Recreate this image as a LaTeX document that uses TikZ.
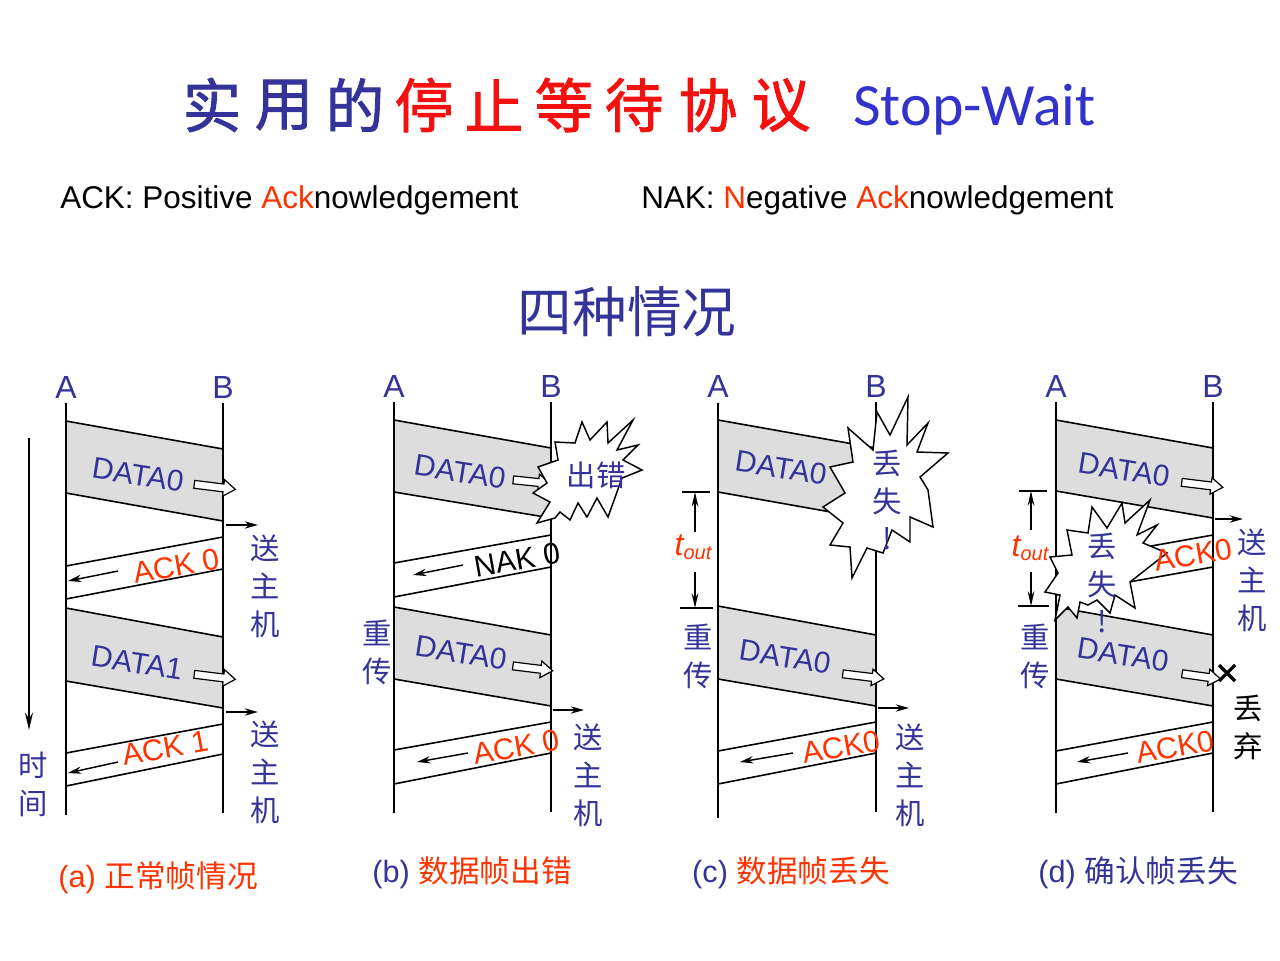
\documentclass[tikz,border=0pt]{standalone}
\usepackage{fontspec}
\setmainfont{Liberation Sans}
\newfontfamily\cjk{Noto Sans CJK SC}
\newfontfamily\cjktitle[FakeBold=1.5]{Noto Sans CJK SC}
\newfontfamily\titlelatin{Carlito}
\usetikzlibrary{arrows.meta,shapes.arrows}

\definecolor{navy}{HTML}{333399}
\definecolor{ackred}{HTML}{FF3300}
\definecolor{titlered}{HTML}{F51010}
\definecolor{swblue}{HTML}{3333CC}
\definecolor{framegray}{HTML}{DDDDDD}

% a data frame travelling A -> B: grey band between two slanted edges
\newcommand\databand[6]{%
  \fill[framegray] (#1,#3) -- (#2,#4) -- (#2,#6) -- (#1,#5) -- cycle;
  \draw[edge] (#1,#3) -- (#2,#4) (#1,#5) -- (#2,#6);}
% an acknowledgement frame travelling B -> A: two slanted edges
\newcommand\ackband[6]{%
  \draw[edge] (#2,#4) -- (#1,#3) (#2,#6) -- (#1,#5);}

\begin{document}
\begin{tikzpicture}[x=0.75pt,y=-0.75pt,
  life/.style={line width=1.4pt},
  edge/.style={line width=1.2pt},
  endlbl/.style={text=navy,font=\fontsize{24}{28}\selectfont,inner sep=0pt},
  datatxt/.style={text=navy,font=\fontsize{22.5}{27}\selectfont,rotate=-9,inner sep=0pt},
  acktxt/.style={text=ackred,font=\fontsize{22.5}{27}\selectfont,rotate=10,inner sep=0pt},
  cjkv/.style={text=navy,font=\cjk\fontsize{22}{28.5}\selectfont,align=center,inner sep=0pt},
  harrow/.style={single arrow,draw,fill=white,line width=0.9pt,inner xsep=0pt,inner ysep=2.5pt,
    text height=0pt,text depth=0pt,text width=0pt,minimum height=31pt,
    single arrow head extend=3.3pt,single arrow tip angle=70},
  hostarrow/.style={line width=1.1pt,-{Stealth[length=10pt,width=5.5pt]}},
  backarrow/.style={line width=1.1pt,-{Stealth[length=10pt,width=5.5pt]}},
  tick/.style={line width=1.2pt},
  dim/.style={line width=1.2pt,-{Stealth[length=11pt,width=5pt]}},
  tout/.style={text=ackred,font=\itshape\fontsize{24}{24}\selectfont,inner sep=0pt},
  burst/.style={draw,fill=white,line width=1.1pt,line join=miter},
  caption/.style={font=\fontsize{23}{28}\selectfont,inner sep=0pt},
  titlech/.style={font=\cjktitle\fontsize{44}{50}\selectfont,inner sep=0pt}]
\useasboundingbox (0,0) rectangle (1280,960);

% ---------------- heading ----------------
\foreach \ch/\x/\col in {实/212/navy,用/284/navy,的/355/navy,停/424/titlered,止/494/titlered,
                         等/564/titlered,待/634/titlered,协/708/titlered,议/781/titlered}
  \node[titlech,text=\col] (t\x) at (\x,105) {\ch};
\node[anchor=base west,text=swblue,font=\titlelatin\fontsize{45}{50}\selectfont,inner sep=0pt]
  (sw) at (853,125) {Stop-Wait};

\node[anchor=base west,font=\fontsize{23.6}{28}\selectfont,inner sep=0pt] (ackdef) at (60,208)
  {ACK: Positive {\color{ackred}Ack}nowledgement};
\node[anchor=base west,font=\fontsize{23.6}{28}\selectfont,inner sep=0pt] (nakdef) at (641,208)
  {NAK: {\color{ackred}N}egative {\color{ackred}Ack}nowledgement};

\node[text=navy,font=\cjk\fontsize{41}{46}\selectfont,inner sep=0pt] (four) at (627,312) {四种情况};

% ---------------- (a) normal case ----------------
\databand{66}{223}{421}{449}{493}{521}
\databand{66}{223}{608}{637}{681}{708}
\ackband{66}{223}{566}{537}{599}{569}
\ackband{66}{223}{753}{724}{786}{754}
\node[endlbl] (aA) at (66,387) {A};
\node[endlbl] (aB) at (223,387) {B};
\draw[life] (66,403) -- (66,815);
\draw[life] (223,403) -- (223,813);
\node[datatxt] (ad0) at (138,475) {DATA0};
\node[datatxt] (ad1) at (137,663) {DATA1};
\node[harrow,rotate=-7] (ah0) at (212,486.5) {};
\node[harrow,rotate=-7] (ah1) at (212,676.5) {};
\coordinate (ao1s) at (226,525); \coordinate (ao1e) at (258,525);
\coordinate (ao2s) at (226,712); \coordinate (ao2e) at (258,712);
\draw[hostarrow] (ao1s) -- (ao1e);
\draw[hostarrow] (ao2s) -- (ao2e);
\node[cjkv] (ahost1) at (265,586) {送\\主\\机};
\node[cjkv] (ahost2) at (265,772) {送\\主\\机};
\node[acktxt] (aack0) at (176,566) {ACK 0};
\node[acktxt] (aack1) at (165,748) {ACK 1};
\coordinate (ab1s) at (118,571); \coordinate (ab1e) at (68,581);
\coordinate (ab2s) at (118,762); \coordinate (ab2e) at (68,773);
\draw[backarrow] (ab1s) -- (ab1e);
\draw[backarrow] (ab2s) -- (ab2e);
\coordinate (ts) at (29,438); \coordinate (te) at (29,730);
\draw[line width=1.3pt,-{Stealth[length=13pt,width=6pt]}] (ts) -- (te);
\node[cjkv] (time) at (33,784) {时\\间};
\node[caption,text=ackred] (capa) at (158,878) {(a) {\cjk 正常帧情况}};

% ---------------- (b) data frame in error ----------------
\databand{394}{551}{420}{448}{492}{518}
\databand{394}{551}{607}{635}{679}{706}
\ackband{394}{551}{563}{535}{597}{567}
\ackband{394}{551}{750}{722}{784}{753}
\node[endlbl] (bA) at (394,386) {A};
\node[endlbl] (bB) at (551,386) {B};
\draw[life] (394,402) -- (394,813);
\draw[life] (551,402) -- (551,812);
\node[datatxt] (bd0) at (460,472) {DATA0};
\node[datatxt] (bd1) at (461,653) {DATA0};
\node[harrow,rotate=-6,minimum height=28pt] (bh0) at (529,481.5) {};
\node[harrow,rotate=-7,minimum height=30pt] (bh1) at (530,668) {};
\node[text=black,font=\fontsize{22.5}{27}\selectfont,rotate=10,inner sep=0pt] (bnak) at (517,560) {NAK 0};
\coordinate (bb1s) at (463,565); \coordinate (bb1e) at (413,575);
\draw[backarrow] (bb1s) -- (bb1e);
\node[acktxt] (back0) at (516,747) {ACK 0};
\coordinate (bb2s) at (468,753); \coordinate (bb2e) at (417,762);
\draw[backarrow] (bb2s) -- (bb2e);
\coordinate (bos) at (553,710); \coordinate (boe) at (584,710);
\draw[hostarrow] (bos) -- (boe);
\node[cjkv] (bhost) at (588,775) {送\\主\\机};
\node[cjkv] (bre) at (377,652) {重\\传};
\draw[burst] (555,442) -- (575,443) -- (582,422) -- (590,440) -- (607,422) -- (608,443)
  -- (633,420) -- (617,450) -- (638,445) -- (623,460) -- (642,470) -- (622,478)
  -- (608,517) -- (597,498) -- (587,517) -- (578,503) -- (570,520) -- (560,512)
  -- (555,518) -- (537,523) -- (550,502) -- (533,493) -- (547,483) -- (538,467)
  -- (558,460) -- cycle;
\node[text=navy,font=\cjk\fontsize{22}{26}\selectfont,inner sep=0pt] (berr) at (596,475) {出错};
\node[caption] (capb) at (472,873) {{\color{navy}(b)} {\cjk\color{ackred}数据帧出错}};

% ---------------- (c) data frame lost ----------------
\databand{718}{876}{420}{448}{492}{520}
\databand{718}{876}{606}{635}{679}{706}
\ackband{718}{876}{751}{722}{784}{753}
\node[endlbl] (cA) at (718,386) {A};
\node[endlbl] (cB) at (876,386) {B};
\draw[life] (718,403) -- (718,818);
\draw[life] (876,402) -- (876,812);
\node[datatxt] (cd0) at (781,468) {DATA0};
\node[datatxt] (cd1) at (785,657) {DATA0};
\node[harrow,rotate=-7] (ch1) at (860.5,676) {};
\node[acktxt] (cack) at (841,747) {ACK0};
\coordinate (cbs) at (793,753); \coordinate (cbe) at (740,762);
\draw[backarrow] (cbs) -- (cbe);
\coordinate (cos) at (878,708); \coordinate (coe) at (909,708);
\draw[hostarrow] (cos) -- (coe);
\node[cjkv] (chost) at (910,775) {送\\主\\机};
\node[cjkv] (cre) at (698,656) {重\\传};
\coordinate (ct1a) at (682,492); \coordinate (ct1b) at (710,492);
\coordinate (ct2a) at (680,608); \coordinate (ct2b) at (713,608);
\draw[tick] (ct1a) -- (ct1b);
\draw[tick] (ct2a) -- (ct2b);
\node[tout] (ctout) at (693,547) {t\raisebox{-3pt}{\fontsize{15}{15}\selectfont out}};
\coordinate (cu) at (695,532); \coordinate (cl) at (695,572);
\draw[dim] (cu) -- (ct1a -| cu);
\draw[dim] (cl) -- (ct2a -| cl);
\draw[burst] (848,428) -- (873,450) -- (877,412) -- (890,435) -- (908,397) -- (907,445)
  -- (928,423) -- (917,452) -- (948,453) -- (920,477) -- (928,490) -- (933,527)
  -- (910,517) -- (910,542) -- (892,530) -- (883,553) -- (867,548) -- (852,578)
  -- (850,547) -- (830,545) -- (843,523) -- (823,507) -- (845,493) -- (830,467)
  -- (853,462) -- cycle;
\node[cjkv,font=\cjk\fontsize{22}{28}\selectfont] (clost) at (887,500) {丢\\失\\!};
\node[caption] (capc) at (791,873) {{\color{navy}(c)} {\cjk\color{ackred}数据帧丢失}};

% ---------------- (d) acknowledgement lost ----------------
\databand{1056}{1213}{420}{448}{491}{518}
\databand{1056}{1213}{607}{635}{679}{706}
\ackband{1056}{1213}{563}{535}{595}{567}
\ackband{1056}{1213}{751}{722}{784}{753}
\node[endlbl] (dA) at (1056,386) {A};
\node[endlbl] (dB) at (1213,386) {B};
\draw[life] (1056,402) -- (1056,813);
\draw[life] (1213,402) -- (1213,812);
\node[datatxt] (dd0) at (1124,470) {DATA0};
\node[datatxt] (dd1) at (1123,655) {DATA0};
\node[harrow,rotate=-7] (dh0) at (1199.5,484.5) {};
\node[harrow,rotate=-8,minimum height=29pt] (dh1) at (1198.5,676) {};
\coordinate (dos) at (1215,519); \coordinate (doe) at (1243,519);
\draw[hostarrow] (dos) -- (doe);
\node[cjkv] (dhost) at (1252,580) {送\\主\\机};
\draw[line width=2.4pt] (1219,665) -- (1235,681) (1219,681) -- (1235,665);
\node[cjkv,text=black] (ddrop) at (1248,727) {丢\\弃};
\node[acktxt] (dack1) at (1175,747) {ACK0};
\coordinate (dbs) at (1128,753); \coordinate (dbe) at (1077,762);
\draw[backarrow] (dbs) -- (dbe);
\node[cjkv] (dre) at (1035,656) {重\\传};
\coordinate (dt1a) at (1019,491); \coordinate (dt1b) at (1047,491);
\coordinate (dt2a) at (1018,606); \coordinate (dt2b) at (1049,606);
\draw[tick] (dt1a) -- (dt1b);
\draw[tick] (dt2a) -- (dt2b);
\node[tout] (dtout) at (1030,548) {t\raisebox{-3pt}{\fontsize{15}{15}\selectfont out}};
\coordinate (du) at (1031,530); \coordinate (dl) at (1031,572);
\draw[dim] (du) -- (dt1a -| du);
\draw[dim] (dl) -- (dt2a -| dl);
\draw[burst] (1092,507) -- (1107,528) -- (1122,503) -- (1125,523) -- (1150,500)
  -- (1137,535) -- (1157,525) -- (1143,543) -- (1167,553) -- (1130,582) -- (1135,608)
  -- (1115,595) -- (1110,613) -- (1097,600) -- (1088,605) -- (1080,602) -- (1077,618)
  -- (1068,607) -- (1055,620) -- (1060,595) -- (1045,592) -- (1058,573) -- (1050,557)
  -- (1072,555) -- (1067,530) -- (1088,533) -- cycle;
\node[cjkv,font=\cjk\fontsize{22}{28}\selectfont] (dlost) at (1102,583) {丢\\失\\!};
\node[acktxt] (dack0) at (1193,555) {ACK0};
\node[caption,text=navy] (capd) at (1138,873) {(d) {\cjk 确认帧丢失}};
\end{tikzpicture}
\end{document}
